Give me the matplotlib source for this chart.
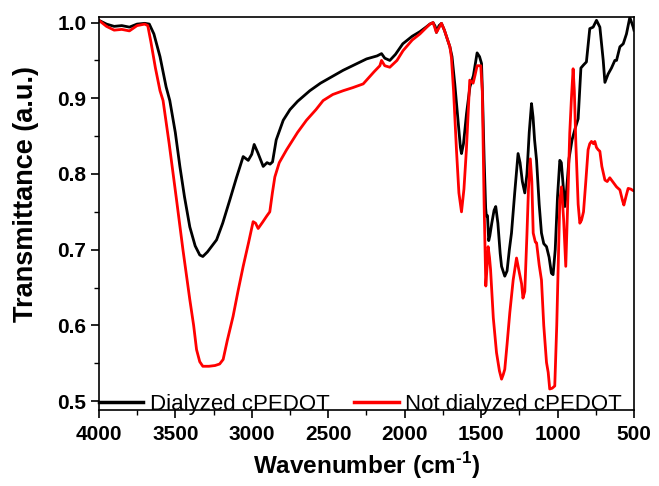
import matplotlib
matplotlib.use("Agg")
import matplotlib.pyplot as plt
from matplotlib.ticker import MultipleLocator, FormatStrFormatter

# Dialyzed cPEDOT (black)
wn_dialyzed = [4000, 3950, 3900, 3850, 3800, 3750, 3700, 3670, 3640, 3600, 3560, 3536, 3500,
               3470, 3440, 3405, 3370, 3340, 3320, 3290, 3260, 3230, 3190, 3143, 3100, 3056,
               3023, 3000, 2984, 2960, 2925, 2900, 2880, 2864, 2840, 2794, 2750, 2700, 2620,
               2550, 2480, 2402, 2330, 2249, 2180, 2151, 2130, 2097, 2060, 2012, 1950, 1900,
               1860, 1835, 1814, 1800, 1792, 1775, 1759, 1740, 1720, 1704, 1690, 1672, 1650,
               1635, 1628, 1615, 1595, 1573, 1550, 1526, 1510, 1497, 1490, 1480, 1470, 1465,
               1458, 1450, 1443, 1430, 1415, 1404, 1390, 1375, 1366, 1345, 1330, 1315, 1301,
               1280, 1258, 1245, 1230, 1214, 1200, 1185, 1170, 1160, 1150, 1137, 1120, 1105,
               1090, 1072, 1055, 1040, 1029, 1015, 1000, 985, 975, 965, 952, 940, 925, 905,
               885, 865, 847, 830, 811, 789, 767, 745, 723, 701, 690, 669, 647, 625, 614, 592,
               570, 549, 527, 515, 505, 500]
t_dialyzed = [1.003, 0.998, 0.995, 0.996, 0.994, 0.998, 0.999, 0.998, 0.985, 0.955, 0.915, 0.897, 0.855,
              0.810, 0.770, 0.730, 0.705, 0.693, 0.691, 0.697, 0.705, 0.713, 0.735, 0.766, 0.795, 0.823,
              0.818, 0.826, 0.839, 0.828, 0.810, 0.815, 0.813, 0.816, 0.845, 0.871, 0.885, 0.896, 0.910,
              0.920, 0.928, 0.937, 0.944, 0.952, 0.956, 0.959, 0.953, 0.950, 0.958, 0.972, 0.982, 0.988,
              0.994, 0.998, 1.000, 0.995, 0.987, 0.996, 0.999, 0.990, 0.978, 0.968, 0.955, 0.919, 0.870,
              0.835, 0.827, 0.840, 0.880, 0.915, 0.930, 0.960, 0.955, 0.946, 0.900, 0.820, 0.755, 0.744,
              0.745, 0.712, 0.718, 0.735, 0.752, 0.757, 0.735, 0.695, 0.678, 0.665, 0.672, 0.700, 0.722,
              0.775, 0.827, 0.815, 0.790, 0.775, 0.800, 0.855, 0.893, 0.875, 0.845, 0.818, 0.760, 0.722,
              0.708, 0.704, 0.690, 0.669, 0.667, 0.700, 0.770, 0.818, 0.815, 0.790, 0.757, 0.780, 0.820, 0.845,
              0.860, 0.873, 0.940, 0.944, 0.948, 0.992, 0.994, 1.003, 0.994, 0.950, 0.921, 0.932, 0.940, 0.950, 0.950, 0.968,
              0.972, 0.985, 1.007, 1.000, 0.994, 0.990]

# Not dialyzed cPEDOT (red)
wn_raw = [4000, 3950, 3900, 3850, 3800, 3750, 3700, 3680, 3660, 3630, 3600, 3580, 3540, 3492,
          3450, 3405, 3380, 3361, 3340, 3320, 3280, 3240, 3210, 3187, 3160, 3122, 3090, 3056,
          3020, 2991, 2975, 2958, 2930, 2900, 2882, 2865, 2849, 2820, 2772, 2700, 2642, 2580,
          2533, 2470, 2402, 2340, 2271, 2200, 2162, 2151, 2130, 2097, 2050, 2010, 1950, 1900,
          1860, 1835, 1814, 1792, 1759, 1740, 1720, 1704, 1694, 1680, 1661, 1645, 1628, 1612,
          1596, 1574, 1552, 1540, 1526, 1502, 1492, 1480, 1469, 1460, 1454, 1445, 1438, 1420,
          1399, 1380, 1366, 1355, 1345, 1330, 1312, 1290, 1268, 1250, 1235, 1226, 1214, 1200,
          1190, 1178, 1168, 1159, 1145, 1137, 1120, 1105, 1090, 1072, 1061, 1051, 1035, 1018,
          1005, 990, 985, 974, 960, 946, 935, 920, 909, 898, 890, 880, 865, 854, 843, 830, 815,
          800, 789, 778, 765, 756, 745, 734, 723, 710, 690, 675, 658, 640, 614, 592, 575, 566,
          550, 538, 520, 505, 500]
t_raw = [1.003, 0.995, 0.990, 0.991, 0.989, 0.996, 0.998, 0.996, 0.975, 0.940, 0.910, 0.897, 0.840, 0.766,
         0.700, 0.634, 0.600, 0.568, 0.552, 0.546, 0.546, 0.547, 0.549, 0.555, 0.580, 0.612, 0.645, 0.678,
         0.710, 0.737, 0.735, 0.728, 0.736, 0.745, 0.750, 0.775, 0.796, 0.815, 0.832, 0.855, 0.871, 0.885,
         0.897, 0.905, 0.910, 0.914, 0.919, 0.935, 0.943, 0.950, 0.943, 0.941, 0.950, 0.963, 0.977, 0.985,
         0.993, 0.998, 1.000, 0.987, 0.999, 0.990, 0.978, 0.968, 0.954, 0.910, 0.832, 0.775, 0.750, 0.780,
         0.832, 0.924, 0.920, 0.930, 0.943, 0.943, 0.910, 0.760, 0.652, 0.680, 0.704, 0.690, 0.674, 0.610,
         0.564, 0.540, 0.529, 0.535, 0.542, 0.575, 0.617, 0.660, 0.689, 0.670, 0.655, 0.636, 0.645, 0.720,
         0.780, 0.820, 0.790, 0.722, 0.710, 0.709, 0.680, 0.660, 0.600, 0.551, 0.538, 0.516, 0.517, 0.520,
         0.600, 0.720, 0.765, 0.783, 0.740, 0.678, 0.750, 0.854, 0.900, 0.939, 0.910, 0.840, 0.760, 0.735, 0.739, 0.750, 0.790,
         0.832, 0.840, 0.843, 0.840, 0.843, 0.835, 0.832, 0.830, 0.810, 0.792, 0.790, 0.795, 0.790, 0.783, 0.779, 0.765, 0.759,
         0.772, 0.781, 0.780, 0.778, 0.778]

series_labels = ["Dialyzed cPEDOT", "Not dialyzed cPEDOT"]
x_label = "Wavenumber (cm$^{\\text{-1}}$)"
y_label = "Transmittance (a.u.)"

plt.rcParams['font.family'] = ['Liberation Sans', 'DejaVu Sans']
plt.rcParams['mathtext.fontset'] = 'custom'
plt.rcParams['mathtext.rm'] = 'Liberation Sans:bold'
plt.rcParams['mathtext.bf'] = 'Liberation Sans:bold'

fig = plt.figure(figsize=(6.59, 4.86), dpi=100)
ax = fig.add_axes([0.150, 0.156, 0.812, 0.810])

ax.plot(wn_dialyzed, t_dialyzed, color='#000000', lw=2.0, label=series_labels[0])
ax.plot(wn_raw, t_raw, color='#ff0000', lw=2.0, label=series_labels[1])

ax.set_xlim(4000, 500)
ax.set_ylim(0.488, 1.008)
ax.xaxis.set_major_locator(MultipleLocator(500))
ax.xaxis.set_minor_locator(MultipleLocator(250))
ax.yaxis.set_major_locator(MultipleLocator(0.1))
ax.yaxis.set_minor_locator(MultipleLocator(0.05))
ax.yaxis.set_major_formatter(FormatStrFormatter('%.1f'))

ax.tick_params(which='major', direction='out', length=6, width=1.2, labelsize=15)
ax.tick_params(axis='x', which='major', pad=5)
ax.tick_params(axis='y', which='major', pad=3)
ax.tick_params(which='minor', direction='out', length=3.5, width=1.0)
ax.tick_params(top=False, right=False)
for lbl in ax.get_xticklabels() + ax.get_yticklabels():
    lbl.set_fontweight('bold')
for sp in ax.spines.values():
    sp.set_linewidth(1.2)

ax.set_xlabel(x_label, fontsize=17.5, fontweight='bold', labelpad=4)
ax.set_ylabel(y_label, fontsize=19.5, fontweight='bold')
ax.yaxis.set_label_coords(-0.112, 0.55)

leg = ax.legend(loc='lower left', bbox_to_anchor=(0.0, -0.012), ncol=2, frameon=False,
                fontsize=16, handlelength=2.0, handletextpad=0.3, columnspacing=1.1,
                borderpad=0.0, borderaxespad=0.0)
for h in leg.get_lines():
    h.set_linewidth(2.5)

fig.savefig('out.png', dpi=100)
